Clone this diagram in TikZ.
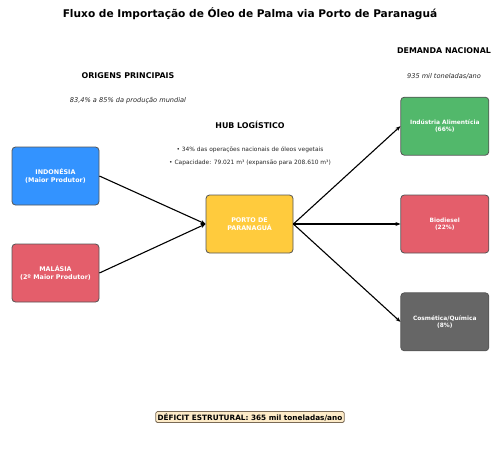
\documentclass[tikz,border=0pt]{standalone}
\usepackage{fontspec}
\setmainfont{DejaVu Sans}
\usepackage{xcolor}
\usetikzlibrary{positioning,arrows.meta}

\definecolor{indoblue}{HTML}{3393FF}
\definecolor{malared}{HTML}{E45E6B}
\definecolor{portoyellow}{HTML}{FFCB3D}
\definecolor{alimgreen}{HTML}{52B86B}
\definecolor{cosmgray}{HTML}{666666}
\definecolor{boxedge}{HTML}{555555}
\definecolor{deficitfill}{HTML}{FDEBC8}
\definecolor{deficitedge}{HTML}{7A6A55}

\begin{document}
\begin{tikzpicture}[
  x=1pt, y=-1pt,
  node distance=39pt and 107pt,
  box/.style={draw=boxedge, line width=0.8pt, rounded corners=3.5pt, align=center,
    minimum width=87pt, minimum height=58pt, text=white, font=\bfseries\fontsize{6.4}{7.4}\selectfont},
  sidebox/.style={box, minimum width=88pt, font=\bfseries\fontsize{5.9}{6.8}\selectfont},
  header/.style={font=\bfseries\fontsize{7.9}{9.4}\selectfont},
  note/.style={font=\itshape\fontsize{6.6}{7.8}\selectfont, text=black!85},
  bullet/.style={font=\fontsize{5.9}{7}\selectfont, text=black!85},
  flow/.style={-{Stealth[length=5pt,width=4pt]}, line width=1.1pt}
]
\useasboundingbox (0,0) rectangle (500,475);

% titulo e cabecalhos
\node[font=\bfseries\fontsize{10.6}{12.5}\selectfont] (title) at (250,14) {Fluxo de Importação de Óleo de Palma via Porto de Paranaguá};
\node[header] (origens) at (128,76) {ORIGENS PRINCIPAIS};
\node[note] (origensnote) at (128,101) {83,4\% a 85\% da produção mundial};
\node[header] (hub) at (250,125) {HUB LOGÍSTICO};
\node[bullet] (hubnote1) at (250,150) {• 34\% das operações nacionais de óleos vegetais};
\node[bullet] (hubnote2) at (250,163) {• Capacidade: 79.021 m³ (expansão para 208.610 m³)};
\node[header] (demanda) at (444,51) {DEMANDA NACIONAL};
\node[note] (demandanote) at (444,76) {935 mil toneladas/ano};

% origens e hub
\node[box, fill=indoblue] (indonesia) at (55.5,176) {INDONÉSIA\\(Maior Produtor)};
\node[box, fill=malared] (malasia) at (55.5,273) {MALÁSIA\\(2º Maior Produtor)};
\node[box, fill=portoyellow] (porto) at (249.5,224) {PORTO DE\\PARANAGUÁ};

% destinos
\node[sidebox, fill=malared, right=of porto] (biodiesel) {Biodiesel\\(22\%)};
\node[sidebox, fill=alimgreen, above=of biodiesel] (alimenticia) {Indústria Alimentícia\\(66\%)};
\node[sidebox, fill=cosmgray, below=of biodiesel] (cosmetica) {Cosmética/Química\\(8\%)};

\draw[flow] (indonesia.east) -- (porto.west);
\draw[flow] (malasia.east) -- (porto.west);
\draw[flow] (porto.east) -- (alimenticia.west);
\draw[flow] (porto.east) -- (biodiesel.west);
\draw[flow] (porto.east) -- (cosmetica.west);

\node[draw=deficitedge, fill=deficitfill, line width=0.8pt, rounded corners=1.5pt,
  inner sep=1.8pt, font=\bfseries\fontsize{7.3}{8.4}\selectfont] (deficit) at (250,417)
  {DÉFICIT ESTRUTURAL: 365 mil toneladas/ano};
\end{tikzpicture}
\end{document}
